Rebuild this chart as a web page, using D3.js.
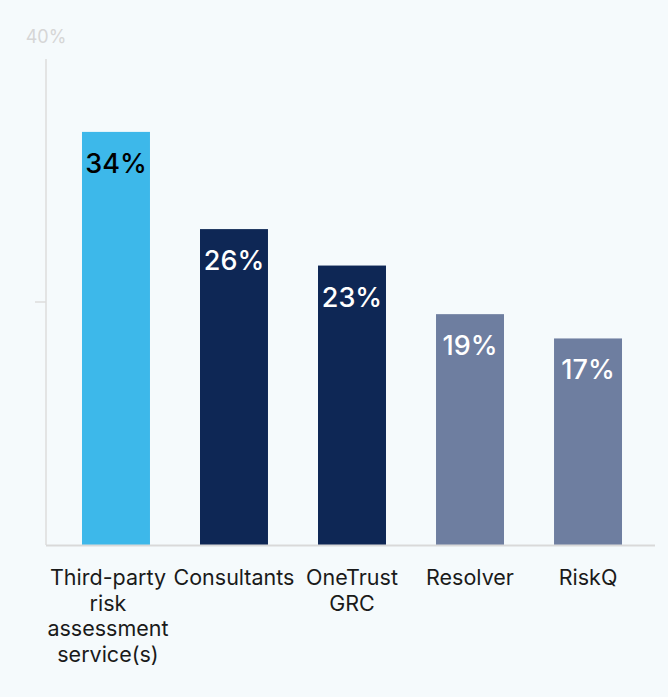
<!DOCTYPE html>
<html><head><meta charset="utf-8">
<script src="https://cdn.jsdelivr.net/npm/d3@7"></script>
<style>
html,body{margin:0;padding:0;background:#f5fafc;}
svg{display:block;font-family:Inter,"Noto Sans",sans-serif;}
</style></head>
<body><svg id="c" width="668" height="697"></svg>
<script>
const categories = ["Third-party risk assessment service(s)", "Consultants", "OneTrust GRC", "Resolver", "RiskQ"];
const values = [34, 26, 23, 19, 17];
const barColors = ["#3db8ea", "#0e2755", "#0e2755", "#6e7ea0", "#6e7ea0"];
const labelColors = ["#000000", "#ffffff", "#ffffff", "#ffffff", "#ffffff"];
const yTicks = [20, 40];

const svg = d3.select("#c");
const x = d3.scaleBand().domain(categories).range([46, 658]).paddingInner(0.424).paddingOuter(0.305);
const y = d3.scaleLinear().domain([0, 40]).range([545, 59]);

svg.append("line").attr("x1", 46).attr("x2", 46).attr("y1", y(40)).attr("y2", y(0))
  .attr("stroke", "#dcdcdc").attr("stroke-width", 1.5);
svg.selectAll(".tk").data(yTicks.filter(d => d < 40)).join("line")
  .attr("x1", 35).attr("x2", 46).attr("y1", d => y(d)).attr("y2", d => y(d))
  .attr("stroke", "#dcdcdc").attr("stroke-width", 1.5);
svg.append("text").attr("x", 46).attr("y", y(40) - 16).attr("text-anchor", "middle")
  .attr("font-size", 18).attr("fill", "#d6d6d6").text(yTicks[yTicks.length-1] + "%");

svg.selectAll(".bar").data(values).join("rect")
  .attr("x", (d, i) => x(categories[i])).attr("width", x.bandwidth())
  .attr("y", d => y(d)).attr("height", d => y(0) - y(d))
  .attr("fill", (d, i) => barColors[i]);

svg.append("line").attr("x1", 46).attr("x2", 655).attr("y1", y(0) + 0.5).attr("y2", y(0) + 0.5)
  .attr("stroke", "#d9d9d9").attr("stroke-width", 2);

svg.selectAll(".vl").data(values).join("text")
  .attr("x", (d, i) => x(categories[i]) + x.bandwidth() / 2)
  .attr("y", d => y(d) + 41)
  .attr("text-anchor", "middle").attr("font-size", 27).attr("font-weight", 500)
  .attr("fill", (d, i) => labelColors[i]).text(d => d + "%");

const fs = 21.5;
const maxW = x.step();
const meas = svg.append("text").attr("font-size", fs).attr("visibility", "hidden");
function tw(t) { meas.text(t); return meas.node().getComputedTextLength(); }
function wrap(str) {
  const words = str.split(" ");
  const lines = [];
  let cur = "";
  for (const w of words) {
    const t = cur ? cur + " " + w : w;
    if (cur && tw(t) > maxW) { lines.push(cur); cur = w; }
    else cur = t;
  }
  if (cur) lines.push(cur);
  return lines;
}
categories.forEach((c, i) => {
  const lines = wrap(c);
  let cx = x(c) + x.bandwidth() / 2;
  if (lines.length > 2) cx -= 8; // long wrapped label sits slightly left
  const t = svg.append("text").attr("text-anchor", "middle").attr("font-size", fs).attr("fill", "#1a1a1a");
  lines.forEach((l, j) => {
    t.append("tspan").attr("x", cx).attr("y", 585 + j * 25.5).text(l);
  });
});
meas.remove();
</script></body></html>
